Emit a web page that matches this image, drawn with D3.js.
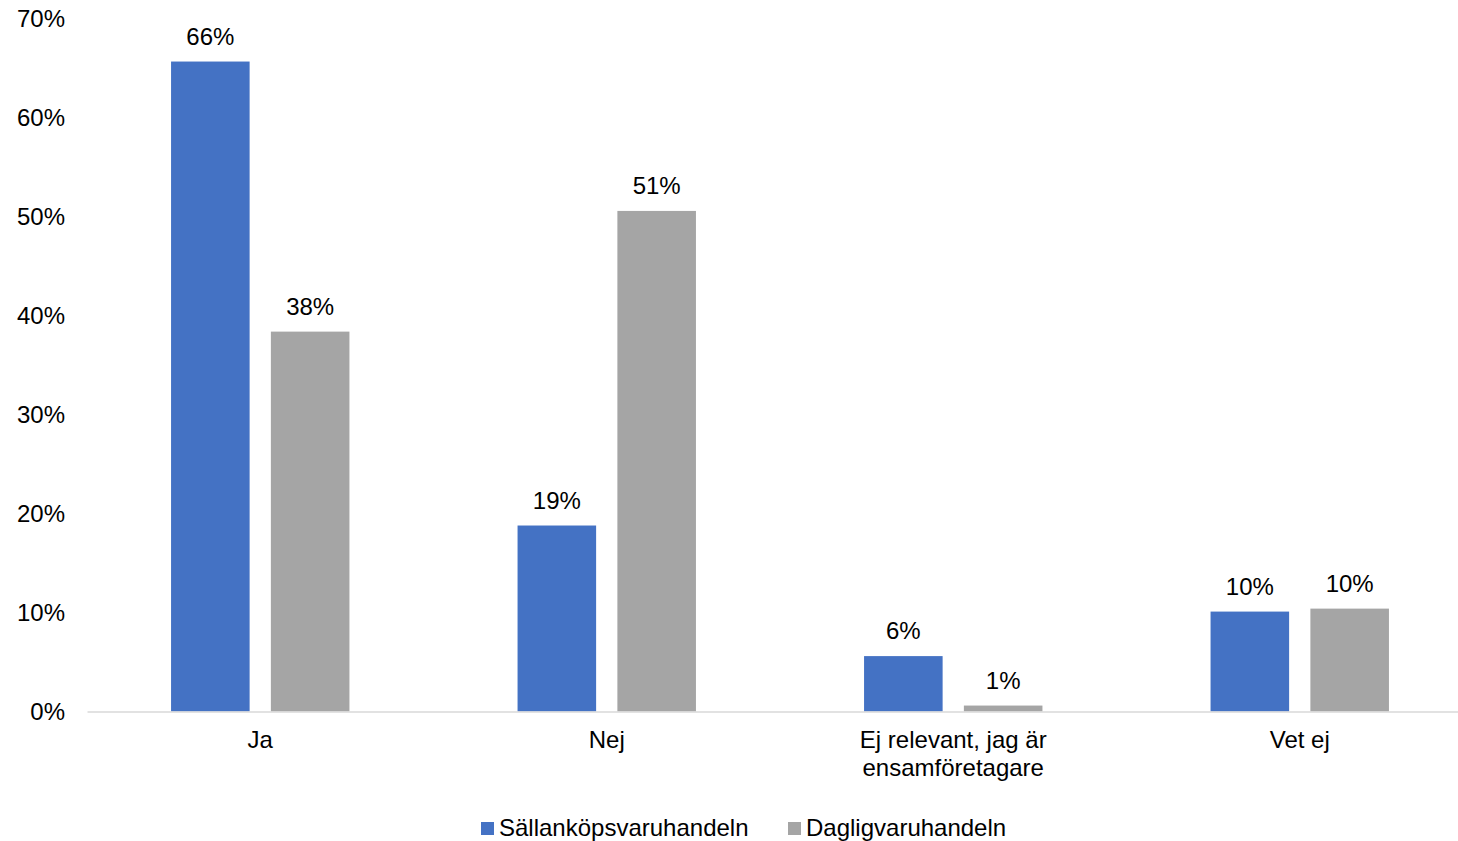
<!DOCTYPE html>
<html>
<head>
<meta charset="utf-8">
<script src="https://cdn.jsdelivr.net/npm/d3@7"></script>
<style>
html,body{margin:0;padding:0;background:#fff;}
svg{display:block;font-family:"Liberation Sans",Arial,sans-serif;}
</style>
</head>
<body>
<svg id="chart" width="1458" height="841"></svg>
<script>
const categories = [["Ja"], ["Nej"], ["Ej relevant, jag är", "ensamföretagare"], ["Vet ej"]];
const categoryKeys = ["Ja", "Nej", "Ej relevant", "Vet ej"];
const seriesNames = ["Sällanköpsvaruhandeln", "Dagligvaruhandeln"];
const sallanValues = [65.7, 18.8, 5.6, 10.1];
const dagligValues = [38.4, 50.6, 0.6, 10.4];
const yTicks = [0, 10, 20, 30, 40, 50, 60, 70];
const colors = ["#4472C4", "#A5A5A5"];

(function () {
const svg = d3.select("#chart");
const plotTop = 19, plotBottom = 711.5, plotLeft = 87, plotRight = 1473;

const x0 = d3.scaleBand().domain(categoryKeys).range([plotLeft, plotRight]).paddingInner(0).paddingOuter(0);
const x1 = d3.scaleBand().domain(seriesNames).range([0, x0.bandwidth()]).paddingInner(0.213).paddingOuter(0.842);
const y = d3.scaleLinear().domain([0, 70]).range([plotBottom, plotTop]);

// y axis labels
const yAxis = d3.axisLeft(y).tickValues(yTicks).tickFormat(d => d + "%").tickSize(0).tickPadding(0);
const gy = svg.append("g").attr("transform", "translate(65,0)").call(yAxis);
gy.select(".domain").remove();
gy.selectAll("text").attr("font-size", 24).attr("fill", "#000").attr("font-family", "Liberation Sans, Arial, sans-serif");

// bars
const seriesData = [sallanValues, dagligValues];
seriesNames.forEach((s, si) => {
  const g = svg.append("g");
  g.selectAll("rect").data(seriesData[si]).enter().append("rect")
    .attr("x", (d, i) => x0(categoryKeys[i]) + x1(s))
    .attr("y", d => y(d))
    .attr("width", x1.bandwidth())
    .attr("height", d => y(0) - y(d))
    .attr("fill", colors[si]);
  g.selectAll("text").data(seriesData[si]).enter().append("text")
    .attr("x", (d, i) => x0(categoryKeys[i]) + x1(s) + x1.bandwidth() / 2)
    .attr("y", d => y(d) - 17)
    .attr("text-anchor", "middle")
    .attr("font-size", 24)
    .attr("fill", "#000")
    .text(d => Math.round(d) + "%");
});

// x axis
const xAxis = d3.axisBottom(x0).tickSize(0).tickFormat("");
const gx = svg.append("g").attr("transform", `translate(0,${plotBottom})`).call(xAxis);
gx.select(".domain").attr("stroke", "#D9D9D9").attr("stroke-width", 1.5);

// category labels
categories.forEach((lines, i) => {
  const cx = x0(categoryKeys[i]) + x0.bandwidth() / 2;
  const t = svg.append("text")
    .attr("x", cx)
    .attr("y", 748)
    .attr("text-anchor", "middle")
    .attr("font-size", 24)
    .attr("fill", "#000");
  lines.forEach((l, j) => {
    t.append("tspan").attr("x", cx).attr("dy", j === 0 ? 0 : 27.6).text(l);
  });
});

// legend
const legendX = [481, 788];
seriesNames.forEach((s, i) => {
  svg.append("rect").attr("x", legendX[i]).attr("y", 822).attr("width", 13).attr("height", 13).attr("fill", colors[i]);
  svg.append("text").attr("x", legendX[i] + 18).attr("y", 836).attr("font-size", 24).attr("fill", "#000").text(s);
});
})();
</script>
</body>
</html>
